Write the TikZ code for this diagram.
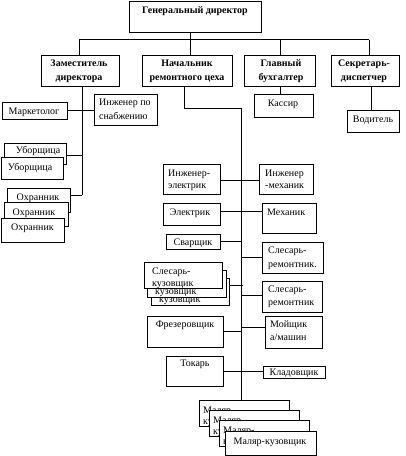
\documentclass[tikz,border=0pt]{standalone}
\usepackage{fontspec}
\setmainfont{Liberation Serif}
\usetikzlibrary{fit}
\tikzset{
  box/.style={draw=black, line width=0.9pt, fill=white, inner sep=0pt},
  conn/.style={draw=black, line width=0.8pt},
  t/.style={inner sep=0pt, anchor=base, font=\fontsize{10}{12}\selectfont},
  tl/.style={t, anchor=base west},
  tb/.style={t, font=\fontsize{10}{12}\selectfont\bfseries},
}
\newcommand\bx[5]{\node[box, fit={(#2,#3)(#4,#5)}] (#1) {};}
\begin{document}
\begin{tikzpicture}[x=1pt,y=-1pt]
\useasboundingbox (0,0) rectangle (406,456);
% top level
\bx{gd}{129}{1}{261}{32}
\node[tb] (gdt) at (195,13.5) {Генеральный директор};
\bx{zam}{41}{55}{119}{86}
\node[tb] (zamt1) at (79,66.5) {Заместитель};
\node[tb] (zamt2) at (79,80.5) {директора};
\bx{nach}{142}{55}{232}{86}
\node[tb] (nacht1) at (187,66.5) {Начальник};
\node[tb] (nacht2) at (187,80.5) {ремонтного цеха};
\bx{buh}{244}{55}{315}{86}
\node[tb] (buht1) at (281,66.5) {Главный};
\node[tb] (buht2) at (281,80.5) {бухгалтер};
\bx{sek}{331}{55}{399}{86}
\node[tb] (sekt1) at (364,66.5) {Секретарь-};
\node[tb] (sekt2) at (364,80.5) {диспетчер};
% second level
\bx{mk}{2}{102}{67}{119}
\node[t] (mkt) at (34,114.5) {Маркетолог};
\bx{isn}{94}{94}{157}{125}
\node[tl] (isnt1) at (99,105.5) {Инженер по};
\node[tl] (isnt2) at (99,119.5) {снабжению};
\bx{kas}{254}{94}{313}{117}
\node[t] (kast) at (283,106.5) {Кассир};
\bx{vod}{347}{110}{399}{132}
\node[t] (vodt) at (373,122.5) {Водитель};
% cleaners
\bx{ub1}{4}{143}{66}{164}
\node[t] (ub1t) at (38,153.5) {Уборщица};
\bx{ub2}{1}{157}{63}{179}
\node[t] (ub2t) at (30,170.5) {Уборщица};
% guards
\bx{oh1}{7}{188}{70}{212}
\node[t] (oh1t) at (38,200.5) {Охранник};
\bx{oh2}{4}{202}{68}{226}
\node[t] (oh2t) at (34,215.5) {Охранник};
\bx{oh3}{1}{218}{64}{242}
\node[t] (oh3t) at (32.5,230.5) {Охранник};
% workshop
\bx{ie}{163}{164}{220}{194}
\node[tl] (iet1) at (168,176.5) {Инженер-};
\node[tl] (iet2) at (168,188.5) {электрик};
\bx{im}{259}{164}{313}{194}
\node[tl] (imt1) at (265,176.5) {Инженер};
\node[tl] (imt2) at (265,188.5) {-механик};
\bx{el}{163}{203}{220}{225}
\node[t] (elt) at (190,215.5) {Электрик};
\bx{meh}{262}{203}{316}{233}
\node[tl] (meht) at (267,215.5) {Механик};
\bx{sv}{166}{234}{220}{249}
\node[t] (svt) at (193,245.5) {Сварщик};
\bx{sr1}{262}{242}{323}{273}
\node[tl] (sr1t1) at (268,253.5) {Слесарь-};
\node[tl] (sr1t2) at (268,267.5) {ремонтник.};
\bx{sk3}{151}{278}{229}{305}
\node[tl] (sk3t1) at (159,290.5) {Слесарь-};
\node[tl] (sk3t2) at (159,302.5) {кузовщик};
\bx{sk2}{147}{270}{226}{297}
\node[tl] (sk2t1) at (155,282.5) {Слесарь-};
\node[tl] (sk2t2) at (155,294.5) {кузовщик};
\bx{sk1}{144}{262}{222}{288}
\node[tl] (sk1t1) at (152,274.5) {Слесарь-};
\node[tl] (sk1t2) at (152,286.5) {кузовщик};
\bx{sr2}{262}{281}{322}{312}
\node[tl] (sr2t1) at (268,292.5) {Слесарь-};
\node[tl] (sr2t2) at (268,305.5) {ремонтник};
\bx{fr}{147}{316}{223}{347}
\node[t] (frt) at (185,327.5) {Фрезеровщик};
\bx{moy}{265}{316}{322}{348}
\node[tl] (moyt1) at (270,327.5) {Мойщик};
\node[tl] (moyt2) at (270,340.5) {а/машин};
\bx{tok}{166}{356}{223}{386}
\node[t] (tokt) at (195,366.5) {Токарь};
\bx{kl}{263}{366}{325}{378}
\node[t] (klt) at (294,375.5) {Кладовщик};
% painters
\bx{ml1}{199}{400}{289}{426}
\node[tl] (ml1t1) at (203,413.5) {Маляр-};
\node[tl] (ml1t2) at (203,424.5) {кузовщик};
\bx{ml2}{209}{410}{299}{436}
\node[tl] (ml2t1) at (213,423.5) {Маляр-};
\node[tl] (ml2t2) at (213,434.5) {кузовщик};
\bx{ml3}{219}{420}{309}{446}
\node[tl] (ml3t1) at (223,433.5) {Маляр-};
\node[tl] (ml3t2) at (223,444.5) {кузовщик};
\bx{ml4}{225}{431}{316}{455}
\node[t] (ml4t) at (270,444.5) {Маляр-кузовщик};
% bus
\coordinate (b0) at (190,39.5);
\coordinate (b1) at (79,39.5);
\coordinate (b2) at (190,39.5);
\coordinate (b3) at (280,39.5);
\coordinate (b4) at (369,39.5);
\draw[conn] (b0 |- gd.south) -- (b0);
\draw[conn] (b1) -- (b4);
\draw[conn] (b1) -- (b1 |- zam.north);
\draw[conn] (b2) -- (b2 |- nach.north);
\draw[conn] (b3) -- (b3 |- buh.north);
\draw[conn] (b4) -- (b4 |- sek.north);
% left branch
\coordinate (z0) at (82,195);
\coordinate (m0) at (82,110);
\coordinate (u0) at (82,155);
\draw[conn] (z0 |- zam.south) -- (z0);
\draw[conn] (mk.east |- m0) -- (isn.west |- m0);
\draw[conn] (ub1.east |- u0) -- (u0);
\draw[conn] (oh1.east |- z0) -- (z0);
% accountant, secretary
\draw[conn] (b3 |- buh.south) -- (b3 |- kas.north);
\coordinate (s0) at (371,86);
\draw[conn] (s0 |- sek.south) -- (s0 |- vod.north);
% workshop spine
\coordinate (n1) at (184,108);
\coordinate (n2) at (241,108);
\draw[conn] (n1 |- nach.south) -- (n1) -- (n2) -- (n2 |- ml1.north);
\coordinate (r1) at (241,180);
\coordinate (r2) at (241,211);
\coordinate (r3) at (241,241);
\coordinate (r4) at (241,257);
\coordinate (r5) at (243,285);
\coordinate (r6) at (241,295);
\coordinate (r7) at (241,331);
\coordinate (r8) at (241,327);
\coordinate (r9) at (241,371);
\draw[conn] (ie.east |- r1) -- (im.west |- r1);
\draw[conn] (el.east |- r2) -- (meh.west |- r2);
\draw[conn] (sv.east |- r3) -- (r3);
\draw[conn] (r4) -- (sr1.west |- r4);
\draw[conn] (sk3.east |- r5) -- (r5);
\draw[conn] (r6) -- (sr2.west |- r6);
\draw[conn] (fr.east |- r7) -- (r7);
\draw[conn] (r8) -- (moy.west |- r8);
\draw[conn] (tok.east |- r9) -- (kl.west |- r9);
\end{tikzpicture}
\end{document}
